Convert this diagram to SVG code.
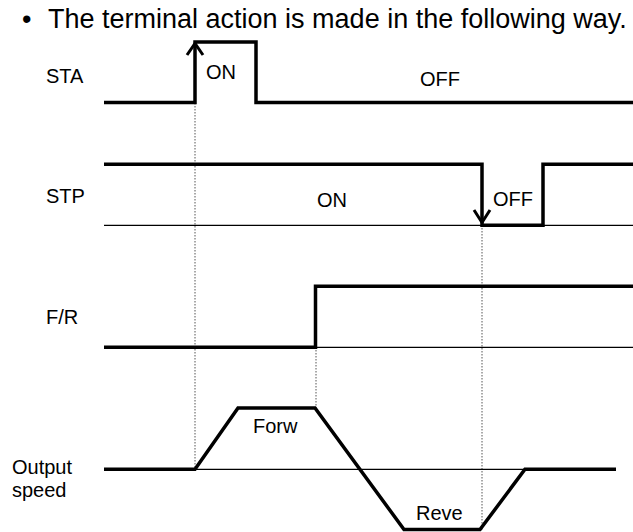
<svg xmlns="http://www.w3.org/2000/svg" width="633" height="532" viewBox="0 0 633 532">
<style>
text{font-family:"Liberation Sans",Arial,sans-serif;fill:#000}
.lbl{font-size:20px}
.title{font-size:27px}
.thick{fill:none;stroke:#000;stroke-width:3.5;stroke-linejoin:miter;stroke-linecap:butt}
.thin{fill:none;stroke:#000;stroke-width:1.2}
.dot{fill:none;stroke:#555;stroke-width:1;stroke-dasharray:1.5 1.5}
.arr{fill:none;stroke:#000;stroke-width:3}
</style>
<rect width="633" height="532" fill="#fff"/>
<g id="title">
<text class="title" x="22" y="28">•</text>
<text class="title" x="48" y="28">The terminal action is made in the following way.</text>
</g>
<g id="connectors">
<line class="dot" x1="195" y1="103" x2="195" y2="469"/>
<line class="dot" x1="316" y1="347" x2="316" y2="408"/>
<line class="dot" x1="482" y1="225" x2="482" y2="530"/>
</g>
<g id="STA">
<text class="lbl" x="46" y="83">STA</text>
<polyline class="thick" points="104,102.5 195,102.5 195,42 256,42 256,102.5 633,102.5"/>
<polyline class="arr" points="187,55 195,43.5 203,55"/>
<text class="lbl" x="206" y="79">ON</text>
<text class="lbl" x="420" y="86">OFF</text>
</g>
<g id="STP">
<text class="lbl" x="46" y="203">STP</text>
<line class="thin" x1="104" y1="225.3" x2="633" y2="225.3"/>
<polyline class="thick" points="104,164.3 482,164.3 482,225.3 543,225.3 543,164.3 633,164.3"/>
<polyline class="arr" points="474,210 482,222.5 490,210"/>
<text class="lbl" x="317" y="206.5">ON</text>
<text class="lbl" x="493" y="206">OFF</text>
</g>
<g id="FR">
<text class="lbl" x="46" y="324">F/R</text>
<line class="thin" x1="316" y1="347.3" x2="633" y2="347.3"/>
<polyline class="thick" points="104,347.3 315.5,347.3 315.5,286.3 633,286.3"/>
</g>
<g id="output">
<text class="lbl" x="12" y="474">Output</text>
<text class="lbl" x="12" y="497">speed</text>
<line class="thin" x1="195" y1="469.3" x2="525" y2="469.3"/>
<polyline class="thick" points="104,469.3 195,469.3 238,408 315,408 404,529.5 480,529.5 525,469.3 616,469.3"/>
<text class="lbl" x="253" y="433">Forw</text>
<text class="lbl" x="416" y="520">Reve</text>
</g>
</svg>
